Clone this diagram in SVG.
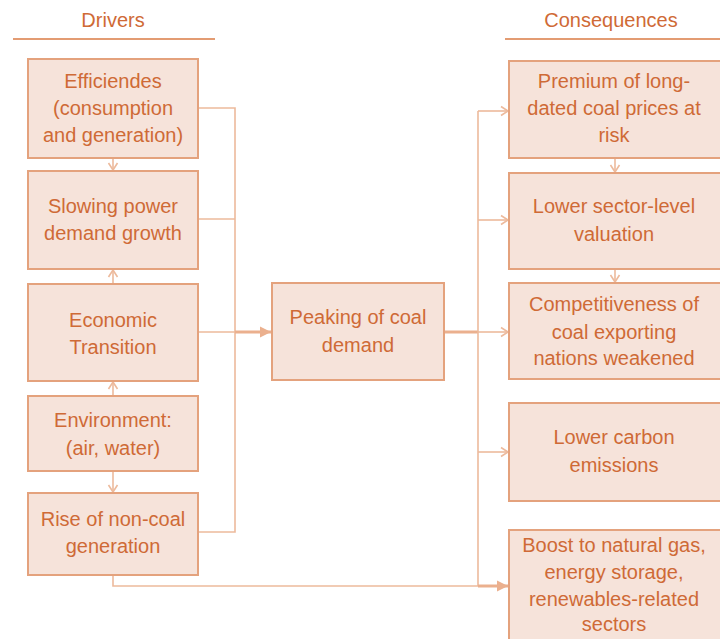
<svg xmlns="http://www.w3.org/2000/svg" width="720" height="639" viewBox="0 0 720 639">
<style>
.box{fill:#F6E3DA;stroke:#E4A27D;stroke-width:2}
.t{font-family:"Liberation Sans",Arial,sans-serif;font-size:20px;fill:#CF6A36;text-anchor:middle}
.c{fill:none;stroke:#EDBA9C;stroke-width:1.6}
.ck{fill:none;stroke:#EBB08E;stroke-width:3}
.hl{stroke:#E39C73;stroke-width:2}
</style>
<defs>
<marker id="ch" markerUnits="userSpaceOnUse" markerWidth="12" markerHeight="12" refX="9" refY="6" orient="auto">
<path d="M2,1.5 L9,6 L2,10.5" fill="none" stroke="#EDBA9C" stroke-width="1.6"/>
</marker>
<marker id="ah" markerUnits="userSpaceOnUse" markerWidth="14" markerHeight="14" refX="12" refY="7" orient="auto">
<path d="M1,1.5 L12,7 L1,12.5 Z" fill="#EBB08E"/>
</marker>
</defs>
<g id="headers">
<text class="t" x="113" y="27">Drivers</text>
<line class="hl" x1="13" y1="39" x2="215" y2="39"/>
<text class="t" x="611" y="27">Consequences</text>
<line class="hl" x1="505" y1="39" x2="720" y2="39"/>
</g>
<g id="connectors">
<line class="c" x1="113" y1="158" x2="113" y2="170" marker-end="url(#ch)"/>
<line class="c" x1="113" y1="284" x2="113" y2="270" marker-end="url(#ch)"/>
<line class="c" x1="113" y1="396" x2="113" y2="382" marker-end="url(#ch)"/>
<line class="c" x1="113" y1="471" x2="113" y2="492" marker-end="url(#ch)"/>
<path class="c" d="M198,108 H235 V532 H198 M198,219 H235 M198,332 H235"/>
<line class="ck" x1="235" y1="332" x2="271" y2="332" marker-end="url(#ah)"/>
<line class="ck" x1="444" y1="332" x2="478" y2="332"/>
<path class="c" d="M478,111 V586"/>
<line class="c" x1="478" y1="111" x2="508" y2="111" marker-end="url(#ch)"/>
<line class="c" x1="478" y1="220" x2="508" y2="220" marker-end="url(#ch)"/>
<line class="c" x1="478" y1="332" x2="508" y2="332" marker-end="url(#ch)"/>
<line class="c" x1="478" y1="452" x2="508" y2="452" marker-end="url(#ch)"/>
<path class="c" d="M113,575 V586 H478"/>
<line class="ck" x1="478" y1="586" x2="508" y2="586" marker-end="url(#ah)"/>
<line class="c" x1="615" y1="158" x2="615" y2="172" marker-end="url(#ch)"/>
<line class="c" x1="615" y1="269" x2="615" y2="282" marker-end="url(#ch)"/>
</g>
<g id="efficiencies">
<rect class="box" x="28" y="59" width="170" height="99"/>
<text class="t" x="113" y="88">Efficiendes</text>
<text class="t" x="113" y="115">(consumption</text>
<text class="t" x="113" y="142">and generation)</text>
</g>
<g id="slowing">
<rect class="box" x="28" y="171" width="170" height="98"/>
<text class="t" x="113" y="213">Slowing power</text>
<text class="t" x="113" y="240">demand growth</text>
</g>
<g id="economic">
<rect class="box" x="28" y="284" width="170" height="97"/>
<text class="t" x="113" y="327">Economic</text>
<text class="t" x="113" y="354">Transition</text>
</g>
<g id="environment">
<rect class="box" x="28" y="396" width="170" height="75"/>
<text class="t" x="113" y="427">Environment:</text>
<text class="t" x="113" y="455">(air, water)</text>
</g>
<g id="noncoal">
<rect class="box" x="28" y="493" width="170" height="82"/>
<text class="t" x="113" y="526">Rise of non-coal</text>
<text class="t" x="113" y="553">generation</text>
</g>
<g id="peaking">
<rect class="box" x="272" y="283" width="172" height="97"/>
<text class="t" x="358" y="324">Peaking of coal</text>
<text class="t" x="358" y="352">demand</text>
</g>
<g id="premium">
<rect class="box" x="509" y="61" width="214" height="97"/>
<text class="t" x="614" y="88">Premium of long-</text>
<text class="t" x="614" y="115">dated coal prices at</text>
<text class="t" x="614" y="142">risk</text>
</g>
<g id="valuation">
<rect class="box" x="509" y="173" width="214" height="96"/>
<text class="t" x="614" y="213">Lower sector-level</text>
<text class="t" x="614" y="241">valuation</text>
</g>
<g id="competitiveness">
<rect class="box" x="509" y="283" width="214" height="96"/>
<text class="t" x="614" y="311">Competitiveness of</text>
<text class="t" x="614" y="339">coal exporting</text>
<text class="t" x="614" y="365">nations weakened</text>
</g>
<g id="carbon">
<rect class="box" x="509" y="403" width="214" height="98"/>
<text class="t" x="614" y="444">Lower carbon</text>
<text class="t" x="614" y="472">emissions</text>
</g>
<g id="boost">
<rect class="box" x="509" y="530" width="214" height="115"/>
<text class="t" x="614" y="552">Boost to natural gas,</text>
<text class="t" x="614" y="579">energy storage,</text>
<text class="t" x="614" y="606">renewables-related</text>
<text class="t" x="614" y="631">sectors</text>
</g>
</svg>
